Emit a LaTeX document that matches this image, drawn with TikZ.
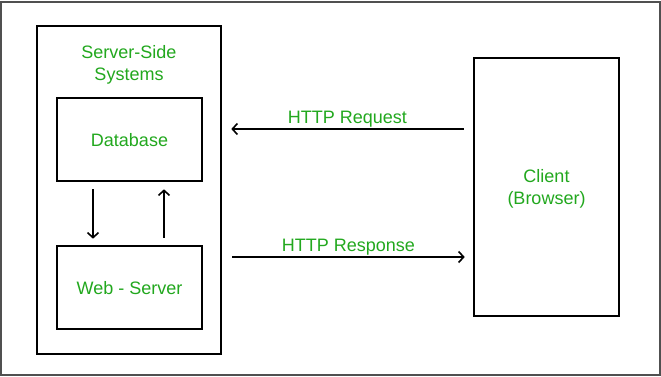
\documentclass[tikz,border=0pt]{standalone}
\usepackage{fontspec}
\setmainfont{Liberation Sans}
\usetikzlibrary{arrows.meta,calc}
\definecolor{txtgreen}{RGB}{34,168,30}
\definecolor{framegray}{RGB}{80,80,80}
\begin{document}
\begin{tikzpicture}[x=1pt,y=-1pt,
  box/.style={draw=black,line width=2.6pt,rectangle,inner sep=0pt,fill=white},
  lbl/.style={text=txtgreen,font=\fontsize{18}{22}\selectfont,align=center,inner sep=0pt},
  arr/.style={line width=1.6pt,-{Straight Barb[length=5pt,width=11pt,line width=1.6pt]}}]
\useasboundingbox (0,0) rectangle (661,377);
\draw[framegray,line width=1.3pt] (1,2) rectangle (660,375);
\node[box,minimum width=184pt,minimum height=328pt] (server) at (129,190) {};
\node[box,minimum width=145pt,minimum height=83pt] (db) at (129.5,139.5) {};
\node[box,minimum width=145pt,minimum height=83pt] (web) at (129.5,287.5) {};
\node[box,minimum width=145pt,minimum height=258pt] (client) at (546.5,187) {};
\node[lbl] (title) at (129,65) {Server-Side\\Systems};
\node[lbl] (dbt) at (129.5,140.5) {Database};
\node[lbl] (webt) at (129.5,288.5) {Web - Server};
\node[lbl] (clt) at (546.5,189) {Client\\(Browser)};
\draw[arr] ($(db.south)+(-36.5,7)$) -- ($(web.north)+(-36.5,-6)$);
\draw[arr] ($(web.north)+(34.5,-7)$) -- ($(db.south)+(34.5,7)$);
\draw[arr] ($(client.west)+(-9,-58)$) -- ($(server.east)+(9,-61)$) node[lbl,midway,above=1pt] (req) {HTTP Request};
\draw[arr] ($(server.east)+(10,67)$) -- ($(client.west)+(-8,70)$) node[lbl,midway,above=1pt] (resp) {HTTP Response};
\end{tikzpicture}
\end{document}
